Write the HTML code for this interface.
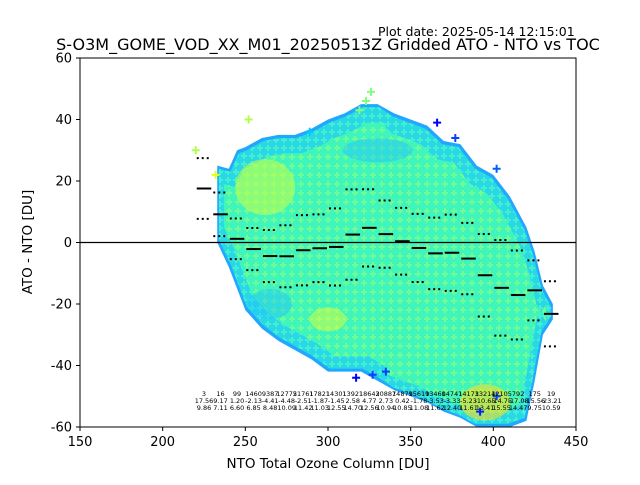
<!DOCTYPE html>
<html><head><meta charset="utf-8"><style>
body{margin:0;background:#fff;}
svg text{font-family:"DejaVu Sans","Liberation Sans",sans-serif;}
</style></head><body>
<svg id="chart" width="640" height="480" xmlns="http://www.w3.org/2000/svg">
<defs>
<pattern id="plusA" width="9" height="9" patternUnits="userSpaceOnUse">
<rect width="9" height="9" fill="#40f5bc"/>
<path d="M4 1v6M1 4h6" stroke="#70fc95" stroke-width="2"/>
</pattern>
<pattern id="plusB" width="8" height="8" patternUnits="userSpaceOnUse">
<rect width="8" height="8" fill="#28d8e8"/>
<path d="M4 1v6M1 4h6" stroke="#45f0c8" stroke-width="2"/>
</pattern>
<clipPath id="plotclip"><rect x="80" y="58" width="496" height="369"/></clipPath>
</defs>
<text x="378" y="36" font-size="12.5">Plot date: 2025-05-14 12:15:01</text>
<text x="328" y="50" font-size="16" text-anchor="middle">S-O3M_GOME_VOD_XX_M01_20250513Z Gridded ATO - NTO vs TOC</text>
<g id="cloud" clip-path="url(#plotclip)"></g>
<g id="marks" clip-path="url(#plotclip)"></g>
<rect x="80" y="58" width="496" height="369" fill="none" stroke="#000" stroke-width="1"/>
<g id="axes"></g>
<text x="328" y="468" font-size="13.5" text-anchor="middle">NTO Total Ozone Column [DU]</text>
<text transform="translate(32,242) rotate(-90)" font-size="13.5" text-anchor="middle">ATO - NTO [DU]</text>
</svg>
<script>
const binStarts=[220,230,240,250,260,270,280,290,300,310,320,330,340,350,360,370,380,390,400,410,420,430];
const binMeans=[17.56,9.17,1.20,-2.13,-4.41,-4.48,-2.51,-1.87,-1.45,2.58,4.77,2.73,0.42,-1.78,-3.53,-3.33,-5.23,-10.65,-14.75,-17.08,-15.56,-23.21];
const binStds=[9.86,7.11,6.60,6.85,8.48,10.09,11.42,11.03,12.55,14.70,12.56,10.94,10.85,11.08,11.62,12.40,11.61,13.41,15.55,14.47,9.75,10.59];
const binCounts=["3","16","99","1460","9387","12775","21761","17821","14301","13921","18643","20887","14879","15619","13460","14741","14173","13214","12105","792","175","19"];
const envX=[233,240,245,250,260,270,280,290,300,310,320,330,340,350,360,370,380,390,400,410,420,425,430,436];
const envTop=[25,24,30,31,34,35,35,37,40,42,45,45,42,40,38,33,32,25,22,15,5,-3,-14,-20];
const envBot=[0,-8,-15,-22,-28,-32,-35,-38,-42,-42,-42,-45,-48,-50,-52,-55,-57,-60,-60,-60,-58,-45,-30,-25];
const outX=[220,232,252,289,319,323,326,366,377,402,317,327,335,392,402];
const outY=[30,22,40,36,43,46,49,39,34,24,-44,-43,-42,-55,-50];
const outC=["#b0ff4a","#e0ff20","#b0ff4a","#00c8ff","#7fff7f","#7fff7f","#7fff7f","#0000ff","#0a40ff","#0060ff","#0000ff","#0a40ff","#0040ff","#0020ff","#0a40ff"];
const xTicks=[150,200,250,300,350,400,450];
const yTicks=[-60,-40,-20,0,20,40,60];
const X=v=>80+(v-150)*496/300;
const Y=v=>242.5-v*369/120;
const NS="http://www.w3.org/2000/svg";
function mk(tag,attrs,parent){const e=document.createElementNS(NS,tag);for(const k in attrs)e.setAttribute(k,attrs[k]);parent.appendChild(e);return e;}
const cloud=document.getElementById('cloud'),marks=document.getElementById('marks'),axes=document.getElementById('axes');
function envPoly(shrinkT,shrinkB,shrinkX){
  const pts=[];
  for(let i=0;i<envX.length;i++)pts.push(X(envX[i]+(i<envX.length/2?shrinkX:-shrinkX))+','+Y(envTop[i]-shrinkT));
  for(let i=envX.length-1;i>=0;i--)pts.push(X(envX[i]+(i<envX.length/2?shrinkX:-shrinkX))+','+Y(envBot[i]+shrinkB));
  return pts.join(' ');
}
let p=mk('polygon',{points:envPoly(0,0,0),fill:'#20a8ff'},cloud);

p=mk('polygon',{points:envPoly(1,1,1),fill:'url(#plusB)'},cloud);

p=mk('polygon',{points:envPoly(6,5,4),fill:'url(#plusA)'},cloud);

p=mk('ellipse',{cx:X(262),cy:Y(18),rx:30,ry:28,fill:'#c8ff40',opacity:0.55},cloud);

p=mk('ellipse',{cx:X(395),cy:Y(-52),rx:25,ry:18,fill:'#ffe020',opacity:0.6},cloud);

p=mk('ellipse',{cx:X(300),cy:Y(-25),rx:18,ry:12,fill:'#e0ff30',opacity:0.5},cloud);

p=mk('ellipse',{cx:X(330),cy:Y(30),rx:35,ry:12,fill:'#20c0ff',opacity:0.45},cloud);

p=mk('ellipse',{cx:X(265),cy:Y(-20),rx:22,ry:15,fill:'#20c0ff',opacity:0.45},cloud);

for(let i=0;i<outX.length;i++){
  const g=mk('path',{d:`M${X(outX[i])-4} ${Y(outY[i])}h8M${X(outX[i])} ${Y(outY[i])-4}v8`,stroke:outC[i],'stroke-width':2},cloud);
  
  
}
let z=mk('line',{x1:80,x2:576,y1:Y(0),y2:Y(0),stroke:'#000','stroke-width':1.2},marks);

for(let i=0;i<binStarts.length;i++){
  const x1=X(binStarts[i]),x2=X(binStarts[i]+10),cx=(x1+x2)/2;
  const m=mk('line',{x1:x1+1,x2:x2-1,y1:Y(binMeans[i]),y2:Y(binMeans[i]),stroke:'#000','stroke-width':2},marks);
  
  
  for(const s of [1,-1]){
    const d=mk('line',{x1:x1+1,x2:x2-1,y1:Y(binMeans[i]+s*binStds[i]),y2:Y(binMeans[i]+s*binStds[i]),stroke:'#000','stroke-width':2,'stroke-dasharray':'2,3'},marks);
    
    
  }
  const rows=[binCounts[i],binMeans[i].toFixed(2),binStds[i].toFixed(2)];
  rows.forEach((r,j)=>{
    const t=mk('text',{x:cx,y:396+j*7,'font-size':6.5,'text-anchor':'middle'},axes);
    t.textContent=r;
    
    
  });
}
xTicks.forEach(v=>{
  const l=mk('line',{x1:X(v),x2:X(v),y1:427,y2:431,stroke:'#000'},axes);
  
  const t=mk('text',{x:X(v),y:446,'font-size':13,'text-anchor':'middle'},axes);
  t.textContent=v;
  
});
yTicks.forEach(v=>{
  const l=mk('line',{x1:76,x2:80,y1:Y(v),y2:Y(v),stroke:'#000'},axes);
  
  const t=mk('text',{x:72,y:Y(v)+4.5,'font-size':13,'text-anchor':'end'},axes);
  t.textContent=v;
  
});
</script>
</body></html>
